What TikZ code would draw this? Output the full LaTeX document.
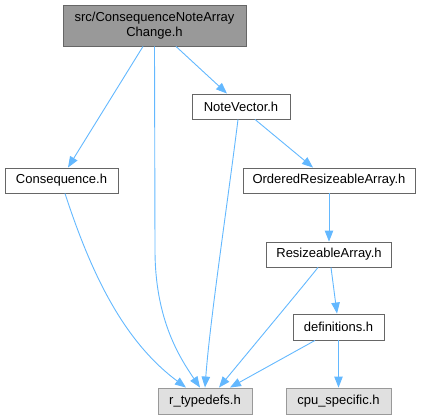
\documentclass[tikz,border=0pt]{standalone}
\usepackage{fontspec}
\setmainfont{Liberation Sans}
\usetikzlibrary{arrows.meta}
\definecolor{edgeblue}{HTML}{63B8FF}
\definecolor{boxborder}{HTML}{666666}
\definecolor{topfill}{HTML}{999999}
\definecolor{extfill}{HTML}{E0E0E0}
\definecolor{extborder}{HTML}{999999}
\begin{document}
\begin{tikzpicture}[x=1pt,y=-1pt,
  every node/.style={font=\fontsize{13}{14.5}\selectfont, inner sep=0pt, align=center},
  filebox/.style={draw=boxborder, fill=white, line width=0.9pt, minimum height=25pt},
  topbox/.style={draw=boxborder, fill=topfill, line width=0.9pt},
  extbox/.style={draw=extborder, fill=extfill, line width=0.9pt, minimum height=26pt},
  dep/.style={draw=edgeblue, line width=0.9pt, -{Triangle[length=11pt,width=8.5pt]}}
]
\useasboundingbox (0,0) rectangle (421,420);
\node[topbox, minimum width=183pt, minimum height=41pt] (top) at (154.5,25.5) {src/ConsequenceNoteArray\\Change.h};
\node[filebox, minimum width=98pt] (nv) at (241,106.5) {NoteVector.h};
\node[filebox, minimum width=113pt] (cons) at (61.5,180.5) {Consequence.h};
\node[filebox, minimum width=172pt] (ora) at (329,180.5) {OrderedResizeableArray.h};
\node[filebox, minimum width=125pt] (ra) at (329,254.5) {ResizeableArray.h};
\node[filebox, minimum width=91pt, minimum height=26pt] (defs) at (338.5,327) {definitions.h};
\node[extbox, minimum width=94pt] (rt) at (205,401) {r\_typedefs.h};
\node[extbox, minimum width=105pt] (cpu) at (338.5,401) {cpu\_specific.h};

\draw[dep] ([xshift=-11.5pt]top.south) -- ([xshift=6.5pt]cons.north);
\draw[dep] (top.south) -- (155,250) .. controls (155,320) and (180,358) .. ([xshift=-5pt]rt.north);
\draw[dep] ([xshift=21.5pt]top.south) -- ([xshift=-14pt]nv.north);
\draw[dep] ([xshift=-3pt]nv.south) .. controls (228,200) and (210,320) .. (rt.north);
\draw[dep] ([xshift=14pt]nv.south) -- ([xshift=-16pt]ora.north);
\draw[dep] ([xshift=3.5pt]cons.south) .. controls (90,270) and (122,340) .. ([xshift=-19pt]rt.north);
\draw[dep] (ora.south) -- (ra.north);
\draw[dep] ([xshift=-11pt]ra.south) .. controls (300,290) and (250,350) .. ([xshift=14pt]rt.north);
\draw[dep] ([xshift=2pt]ra.south) -- ([xshift=-1.5pt]defs.north);
\draw[dep] ([xshift=-23.5pt]defs.south) -- ([xshift=25pt]rt.north);
\draw[dep] (defs.south) -- (cpu.north);
\end{tikzpicture}
\end{document}
